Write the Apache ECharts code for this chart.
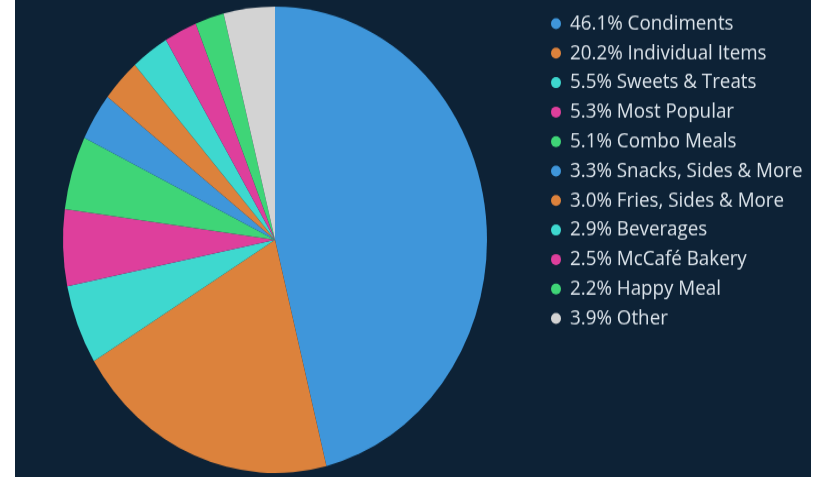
<!DOCTYPE html>
<html><head><meta charset="utf-8">
<script src="https://cdn.jsdelivr.net/npm/echarts@6/dist/echarts.min.js"></script>
<style>
html,body{margin:0;padding:0;background:#ffffff;width:816px;height:478px;overflow:hidden;}
#panel{position:absolute;left:15px;top:0;width:796px;height:477px;background:#0d2236;overflow:hidden;}
#chart{position:absolute;left:0;top:0;width:796px;height:434px;transform:scaleY(1.1);transform-origin:0 0;}
</style></head>
<body>
<div id="panel"><div id="chart"></div></div>
<script>
const categories = ["Condiments","Individual Items","Sweets & Treats","Most Popular","Combo Meals","Snacks, Sides & More","Fries, Sides & More","Beverages","McCafé Bakery","Happy Meal","Other"];
const values = [46.1,20.2,5.5,5.3,5.1,3.3,3.0,2.9,2.5,2.2,3.9];
const colors = ["#3f96da","#dc823c","#3ed8cf","#de3f9c","#3fd577","#3f96da","#dc823c","#3ed8cf","#de3f9c","#3fd577","#d3d3d3"];

const data = categories.map((c,i)=>({name:c,value:values[i],itemStyle:{color:colors[i]}}));
const pct = {};
categories.forEach((c,i)=>{pct[c]=values[i].toFixed(1)+'%';});

const chart = echarts.init(document.getElementById('chart'));
chart.setOption({
  backgroundColor:'transparent',
  animation:false,
  legend:{
    orient:'vertical',
    left:531, top:6.5,
    icon:'circle',
    itemWidth:10, itemHeight:10,
    itemGap:6.8,
    textStyle:{color:'#dbe3ea',fontFamily:'Open Sans',fontSize:18.8,lineHeight:20,padding:[0,0,0,4]},
    formatter:n=>pct[n]+' '+n,
    data:categories
  },
  series:[{
    type:'pie',
    center:[260,218],
    radius:[0,212],
    startAngle:90,
    clockwise:true,
    label:{show:false},
    labelLine:{show:false},
    itemStyle:{borderWidth:0},
    emphasis:{disabled:true},
    data:data
  }]
});
</script>
</body></html>
